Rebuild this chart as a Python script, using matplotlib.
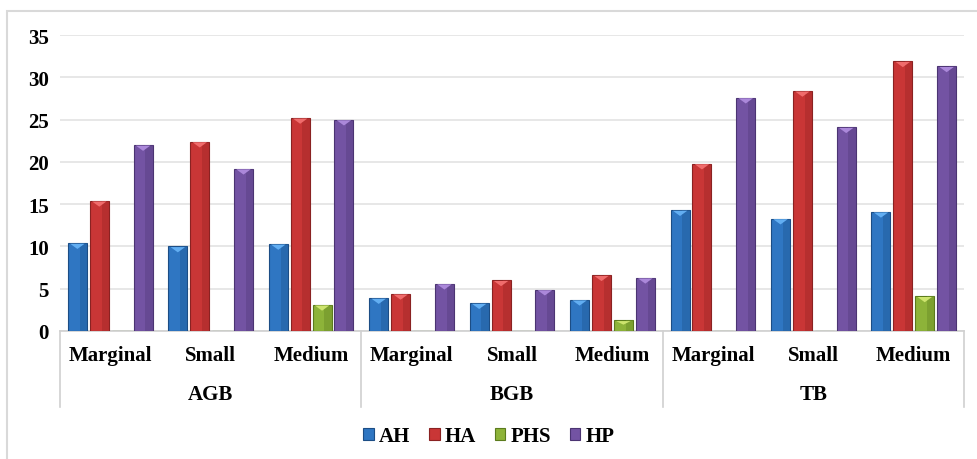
import matplotlib.pyplot as plt
import numpy as np
from matplotlib.patches import Rectangle, Polygon
import matplotlib.transforms as mtransforms

# data
groups = ['AGB', 'BGB', 'TB']
sizes = ['Marginal', 'Small', 'Medium']
series = ['AH', 'HA', 'PHS', 'HP']
AH = [10.4, 10.0, 10.3, 3.9, 3.3, 3.7, 14.3, 13.3, 14.1]
HA = [15.4, 22.4, 25.2, 4.4, 6.0, 6.6, 19.8, 28.4, 31.9]
PHS = [0, 0, 3.1, 0, 0, 1.25, 0, 0, 4.1]
HP = [22.0, 19.2, 25.0, 5.6, 4.9, 6.3, 27.6, 24.1, 31.3]

colors = ['#2f76c2', '#c93636', '#8db339', '#7353a3']
edges = ['#1c4d85', '#8a2222', '#5b7b1d', '#4b3472']
tops = ['#62aef2', '#f06c6c', '#cde46e', '#ab88da']
shade = ['#245f9e', '#a82a2a', '#6f9129', '#5d4287']

plt.rcParams['font.family'] = ['Liberation Serif', 'DejaVu Serif']
plt.rcParams['font.weight'] = 'bold'

fig = plt.figure(figsize=(9.78, 4.6), dpi=100)
ax = fig.add_axes([60 / 978, 128 / 460, 904 / 978, 296 / 460])

# outer chart border
fig.patches.append(Rectangle((7 / 978, -0.1), 1.1, (448 / 460) + 0.1,
                             transform=fig.transFigure, fill=False,
                             edgecolor='#d9d9d9', lw=1.5))

x = np.arange(9)
w = 0.19
step = 0.218
offs = (np.arange(4) - 1.5) * step
for i, vals in enumerate([AH, HA, PHS, HP]):
    bars = ax.bar(x + offs[i], vals, w, color=colors[i], edgecolor=edges[i],
                  linewidth=0.8, label=series[i], zorder=3)
    # bevel look: darker right side and a light chevron on top
    for b in bars:
        h = b.get_height()
        if h <= 0:
            continue
        x0, bw = b.get_x(), b.get_width()
        ax.add_patch(Rectangle((x0 + 0.62 * bw, 0), 0.38 * bw, h,
                               facecolor=shade[i], edgecolor='none',
                               alpha=0.55, zorder=3.5))
        th = min(0.7, h * 0.4)
        ax.add_patch(Polygon([(x0 + 0.12 * bw, h - 0.08), (x0 + 0.88 * bw, h - 0.08),
                              (x0 + 0.5 * bw, h - th)], closed=True,
                             facecolor=tops[i], edgecolor='none', zorder=4))

ax.set_ylim(0, 35)
ax.set_xlim(-0.5, 8.5)
ax.set_yticks(range(0, 36, 5))
ax.yaxis.grid(True, color='#e3e3e3', lw=1.2)
ax.set_axisbelow(True)
for s in ['top', 'right', 'left']:
    ax.spines[s].set_visible(False)
ax.spines['bottom'].set_color('#d0d0d0')
ax.spines['bottom'].set_linewidth(1.2)
ax.tick_params(axis='y', length=0, labelsize=15, pad=8)
ax.set_xticks(x)
ax.set_xticklabels(sizes * 3, fontsize=15, fontweight='bold')
ax.tick_params(axis='x', length=0, pad=10)
for lab in ax.get_yticklabels():
    lab.set_fontweight('bold')

# group separators and group labels
trans = mtransforms.blended_transform_factory(ax.transData, ax.transAxes)
for xs in [-0.5, 2.5, 5.5, 8.5]:
    ax.plot([xs, xs], [0, -76 / 296], transform=trans, color='#d0d0d0',
            lw=1.2, clip_on=False)
for gi, g in enumerate(groups):
    ax.text(gi * 3 + 1, -63 / 296, g, transform=trans, ha='center',
            va='center', fontsize=15, fontweight='bold')

fig.legend(loc='center', bbox_to_anchor=(0.5, 23 / 460), ncol=4, frameon=False,
           fontsize=15, handlelength=0.5, handleheight=0.5, handletextpad=0.25,
           columnspacing=0.9)

fig.savefig('out.png', dpi=100, facecolor='white')
